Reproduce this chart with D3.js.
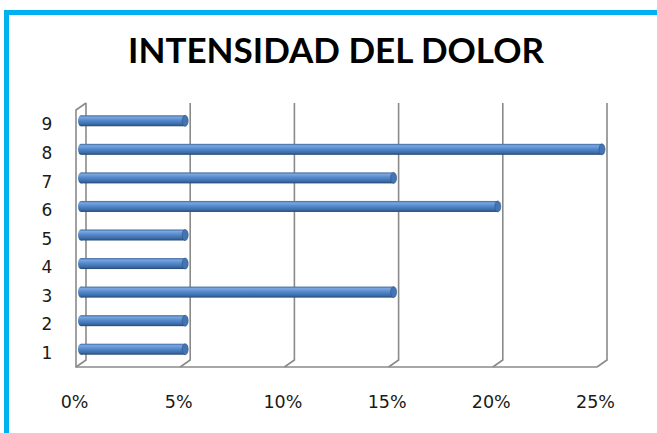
<!DOCTYPE html>
<html>
<head>
<meta charset="utf-8">
<script src="https://cdn.jsdelivr.net/npm/d3@7"></script>
<style>
  body { margin: 0; background: #fff; }
  svg { display: block; }
</style>
</head>
<body>
<svg id="chart"></svg>
<script>
const categories = ["1", "2", "3", "4", "5", "6", "7", "8", "9"];
const values = [5, 5, 15, 5, 5, 20, 15, 25, 5];
const tickValues = [0, 5, 10, 15, 20, 25];
const title = "INTENSIDAD DEL DOLOR";

const W = 657, H = 433;
// back wall of the 3d plot, and the depth offset to the front
const back = { left: 86, right: 607, top: 103, bottom: 360 };
const depth = { dx: -10, dy: 7 };
const barH = 11;

const svg = d3.select("#chart").attr("width", W).attr("height", H);

const x = d3.scaleLinear().domain([0, 25]).range([back.left, back.right]);
const y = d3.scaleBand().domain(categories.slice().reverse()).range([back.top, back.bottom]);

// outer frame (only top and left visible)
svg.append("rect")
  .attr("x", 6.5).attr("y", 12.5)
  .attr("width", 700).attr("height", 500)
  .attr("fill", "none").attr("stroke", "#00b0f0").attr("stroke-width", 5);

svg.append("text")
  .attr("x", 336).attr("y", 63)
  .attr("text-anchor", "middle")
  .attr("font-family", "Lato, 'Open Sans', sans-serif")
  .attr("font-weight", "bold")
  .attr("font-size", 35)
  .attr("textLength", 416).attr("lengthAdjust", "spacingAndGlyphs")
  .text(title);

// walls and gridlines
const grid = svg.append("g").attr("fill", "none").attr("stroke", "#8a8a8a").attr("stroke-width", 1.6);
tickValues.forEach(t => {
  grid.append("path").attr("d", d3.line()([
    [x(t), back.top], [x(t), back.bottom], [x(t) + depth.dx, back.bottom + depth.dy]
  ]));
});
// left wall
grid.append("path").attr("d", d3.line()([
  [x(0), back.top], [x(0) + depth.dx, back.top + depth.dy],
  [x(0) + depth.dx, back.bottom + depth.dy], [x(25) + depth.dx, back.bottom + depth.dy]
]));

// bar gradient
const defs = svg.append("defs");
const grad = defs.append("linearGradient").attr("id", "cyl").attr("x1", 0).attr("y1", 0).attr("x2", 0).attr("y2", 1);
[[0, "#3e69a0"], [0.18, "#7ba6de"], [0.45, "#558bcf"], [0.8, "#3d6ca9"], [1, "#27486f"]]
  .forEach(s => grad.append("stop").attr("offset", s[0]).attr("stop-color", s[1]));

const data = categories.map((c, i) => ({ cat: c, v: values[i] }));
const bx = v => x(v) + depth.dx / 2;
const by = c => y(c) + y.bandwidth() / 2 + depth.dy / 2;

const bars = svg.append("g").selectAll("g").data(data).join("g");
bars.append("ellipse")
  .attr("cx", bx(0)).attr("cy", d => by(d.cat))
  .attr("rx", 3).attr("ry", barH / 2)
  .attr("fill", "url(#cyl)");
bars.append("rect")
  .attr("x", bx(0)).attr("y", d => by(d.cat) - barH / 2)
  .attr("width", d => bx(d.v) - bx(0)).attr("height", barH)
  .attr("fill", "url(#cyl)");
bars.append("ellipse")
  .attr("cx", d => bx(d.v)).attr("cy", d => by(d.cat))
  .attr("rx", 3).attr("ry", barH / 2)
  .attr("fill", "#4474b2").attr("stroke", "#2f5688").attr("stroke-width", 0.6);

// category labels
const yAxis = svg.append("g")
  .attr("transform", `translate(${x(0) + depth.dx - 29},${depth.dy})`)
  .call(d3.axisLeft(y).tickSize(0).tickPadding(0));
yAxis.select(".domain").remove();
yAxis.selectAll("text")
  .attr("text-anchor", "middle").attr("dy", "0.36em")
  .attr("font-family", "'DejaVu Sans', Verdana, sans-serif")
  .attr("font-size", 17).attr("fill", "#1a1a1a");

// value labels
const xAxis = svg.append("g")
  .attr("transform", `translate(${depth.dx - 2},${back.bottom + depth.dy + 29})`)
  .call(d3.axisBottom(x).tickValues(tickValues).tickFormat(d => d + "%").tickSize(0).tickPadding(0));
xAxis.select(".domain").remove();
xAxis.selectAll("text")
  .attr("font-family", "'DejaVu Sans', Verdana, sans-serif")
  .attr("font-size", 17.5).attr("fill", "#1a1a1a");
</script>
</body>
</html>
